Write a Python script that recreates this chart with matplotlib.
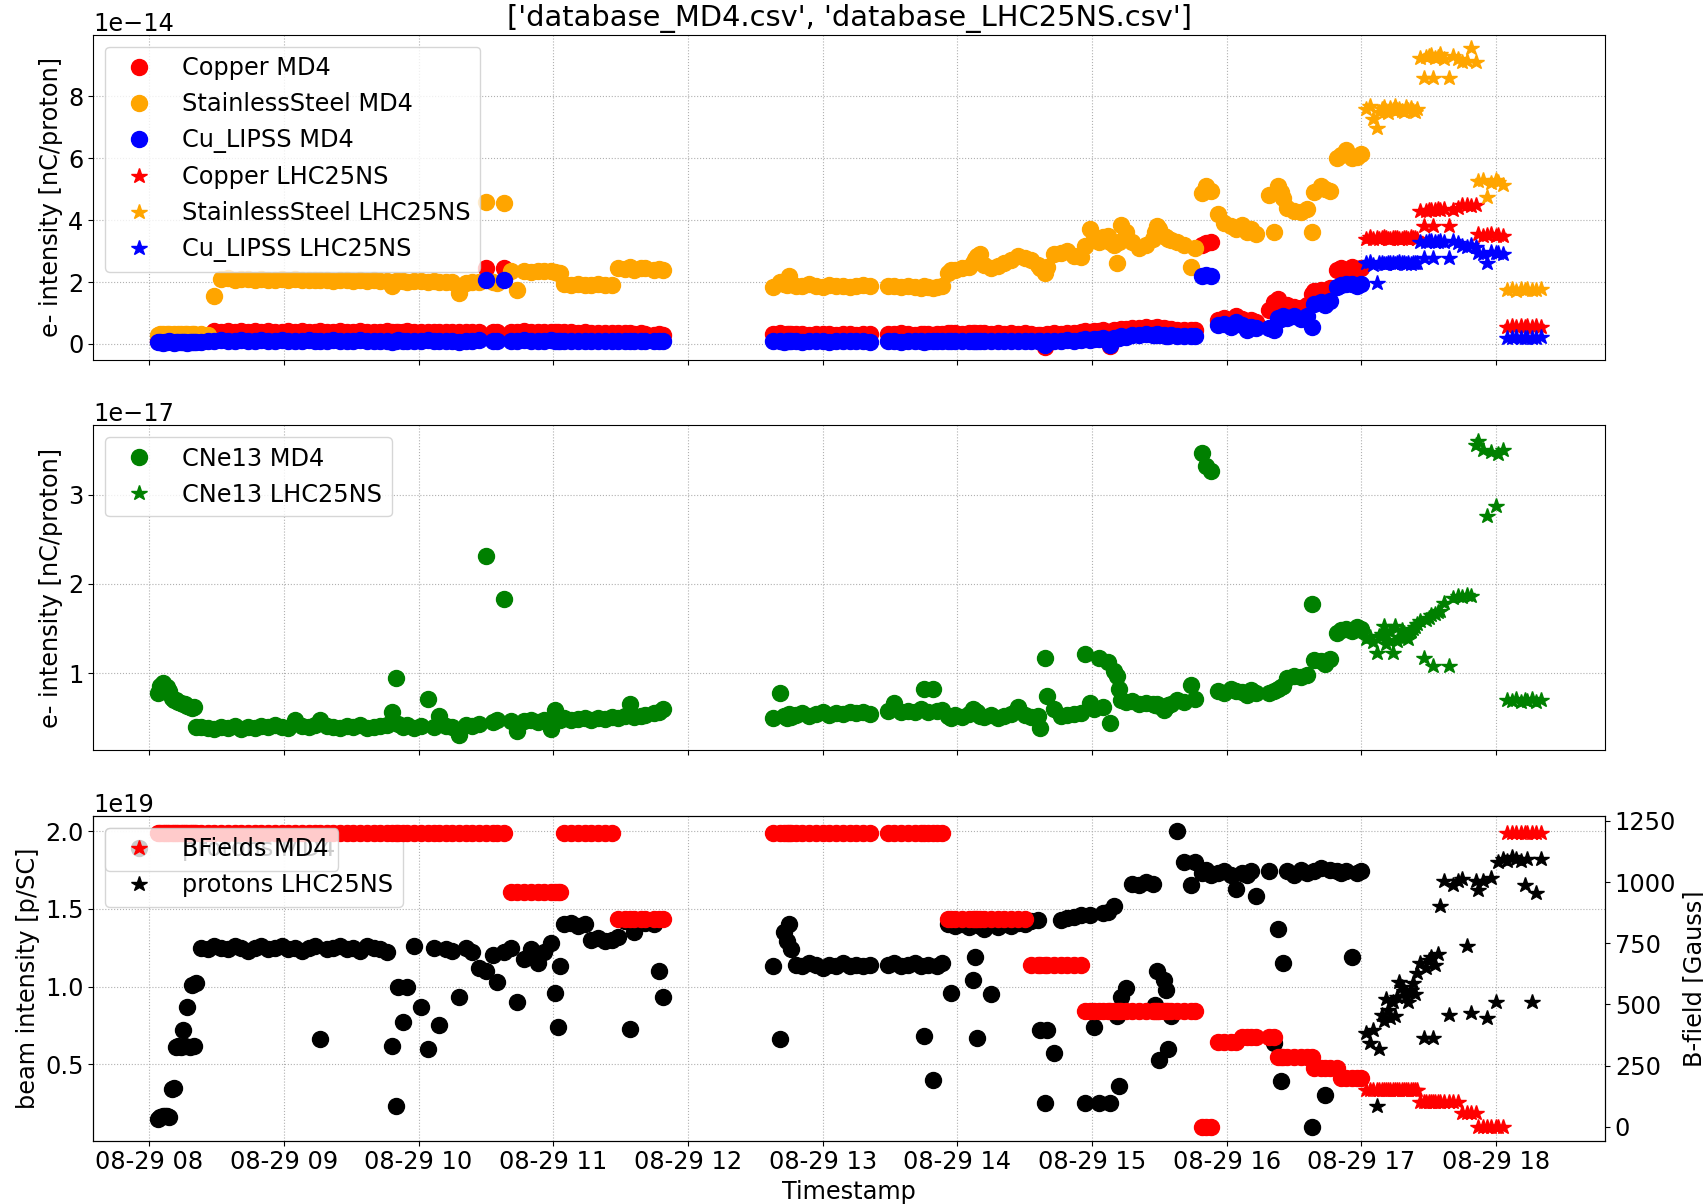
import numpy as np
import pandas as pd
import matplotlib
matplotlib.use("Agg")
import matplotlib.pyplot as plt
import matplotlib.dates as mdates
from matplotlib.ticker import MultipleLocator

plt.rcParams['font.family'] = 'DejaVu Sans'
plt.rcParams['font.size'] = 17.3

files = ['database_MD4.csv', 'database_LHC25NS.csv']
day = pd.Timestamp('2023-08-29 08:00')

# ---- MD4 run: minutes after 08:00 for every logged sample ----
md4_min = [4, 5, 6, 7, 8, 9, 10, 11, 12, 13, 14, 15, 16, 17, 18, 19, 20, 21,
           23, 26, 29, 32, 35, 38, 41, 44, 47, 50,
           53, 56, 59, 62, 65, 68, 71, 74, 76, 79,
           82, 85, 88, 91, 94, 97, 100, 103, 106, 108,
           110, 111, 113, 115, 118, 121, 124, 127, 129, 132,
           135, 138, 141, 144, 147, 150,
           153, 155, 158, 161, 164, 167, 170, 173, 176, 179,
           181, 182, 183, 185, 188, 191, 194, 197, 200, 203,
           206, 209, 212, 214, 216, 219, 221,
           225, 227, 229,
           278, 281, 283, 284, 285, 286, 288, 291, 294, 297, 300, 303, 306, 309, 312, 315, 318, 321,
           329, 332, 335, 338, 341, 344, 345, 347, 349, 351, 353,
           356, 357, 359, 362, 365, 367, 368, 369, 370, 372,
           375, 378, 381, 384, 387, 390, 393, 396, 397, 399,
           400, 403, 406, 409, 412, 415, 417, 419, 421, 423,
           425, 427, 428, 430, 431, 432, 433, 435, 438, 441,
           444, 447, 448, 449, 450, 452, 453, 454, 455, 458,
           461, 464, 466,
           469, 471, 473, 476, 479, 482, 484, 487, 489, 491, 493,
           499, 501, 503, 504, 505, 507, 510, 513, 516, 518,
           519, 522, 524, 526, 529, 531, 533, 536, 538, 540]

# e- intensity, units of 1e-14 nC/proton
copper_md4 = [.10, .12, .09, .11, .10, .12, .10, .11, .12, .10, .11, .13, .10, .12, .11, .10, .12, .11,
              .12, .14, .41, .40, .42, .39, .41, .40, .43, .40,
              .41, .39, .40, .42, .40, .41, .39, .40, .41, .38,
              .40, .42, .39, .40, .41, .38, .40, .39, .41, .40,
              .38, .40, .39, .41, .38, .40, .39, .37, .40, .38,
              .39, .37, .38, .40, .37, 2.45,
              .38, .40, 2.45, .40, .38, .41, .39, .40, .38, .39,
              .37, .38, .36, .37, .38, .36, .37, .36, .35, .36,
              .34, .35, .34, .35, .33, .34, .33,
              .30, .31, .29,
              .32, .34, .30, .31, .33, .32, .31, .32, .30, .33, .31, .32, .30, .31, .33, .30, .32, .31,
              .33, .31, .34, .32, .30, .33, .31, .32, .30, .31, .32,
              .35, .34, .36, .33, .35, .34, .36, .33, .35, .34,
              .32, .35, .33, .34, .32, .35, .33, .30, .30, -.11,
              .32, .34, .33, .36, .35, .38, .42, .40, .43, .41,
              .44, .40, -.07, .45, .43, .46, .48, .47, .52, .50,
              .55, .53, .50, .54, .52, .50, .48, .47, .49, .46,
              .45, .44, .46,
              3.20, 3.25, 3.30, .78, .85, .75, .90, .80, .70, .78, .72,
              1.10, 1.35, 1.45, 1.30, 1.20, 1.25, 1.20, 1.15, 1.25, 1.60,
              1.70, 1.75, 1.65, 1.80, 2.40, 2.45, 2.40, 2.50, 2.42, 2.45]

steel_md4 = [.30, .32, .31, .30, .33, .31, .30, .32, .30, .31, .33, .30, .32, .31, .30, .32, .31, .30,
             .31, .30, 1.54, 2.10, 2.12, 2.08, 2.09, 2.11, 2.07, 2.10,
             2.08, 2.06, 2.09, 2.07, 2.10, 2.08, 2.05, 2.07, 2.06, 2.08,
             2.04, 2.06, 2.05, 2.03, 2.06, 2.04, 2.05, 2.03, 2.02, 1.86,
             2.04, 2.02, 2.03, 2.01, 2.04, 2.02, 2.00, 2.03, 2.01, 1.99,
             2.00, 1.65, 1.98, 2.01, 1.99, 4.60,
             2.00, 1.97, 4.55, 2.34, 1.75, 2.36, 2.33, 2.35, 2.34, 2.36,
             2.33, 2.30, 2.28, 1.93, 1.90, 1.92, 1.89, 1.91, 1.92, 1.90,
             1.91, 2.45, 2.42, 2.48, 2.40, 2.46, 2.44,
             2.40, 2.42, 2.38,
             1.85, 2.00, 1.95, 1.90, 2.18, 1.92, 1.88, 1.86, 1.92, 1.87, 1.85, 1.90, 1.86, 1.88, 1.84, 1.87, 1.89, 1.86,
             1.86, 1.88, 1.84, 1.87, 1.85, 1.82, 1.86, 1.84, 1.80, 1.85, 1.87,
             2.30, 2.40, 2.38, 2.45, 2.50, 2.60, 2.75, 2.85, 2.90, 2.55,
             2.45, 2.52, 2.60, 2.70, 2.85, 2.78, 2.70, 2.55, 2.45, 2.30,
             2.50, 2.90, 2.95, 3.00, 2.85, 2.80, 3.15, 3.70, 3.40, 3.30,
             3.45, 3.50, 3.30, 3.20, 2.60, 3.30, 3.85, 3.60, 3.30, 3.10,
             3.20, 3.40, 3.60, 3.80, 3.70, 3.50, 3.45, 3.40, 3.35, 3.30,
             3.20, 2.50, 3.10,
             4.87, 5.09, 4.95, 4.20, 3.90, 3.80, 3.70, 3.85, 3.60, 3.70, 3.55,
             4.80, 3.60, 5.10, 4.90, 4.70, 4.40, 4.30, 4.25, 4.35, 3.60,
             4.90, 5.10, 5.00, 4.95, 6.00, 6.10, 6.25, 6.00, 6.05, 6.15]

lipss_md4 = [.05, .07, .04, .06, .05, .08, .06, .04, .07, .05, .06, .05, .07, .04, .06, .05, .07, .06,
             .06, .08, .10, .12, .09, .11, .13, .10, .08, .12,
             .10, .09, .13, .11, .08, .10, .12, .09, .11, .10,
             .12, .08, .11, .09, .13, .10, .08, .11, .09, .06,
             .10, .12, .09, .11, .08, .10, .12, .09, .11, .10,
             .08, .05, .11, .09, .12, 2.05,
             .10, .11, 2.05, .10, .08, .12, .09, .11, .10, .12,
             .09, .10, .11, .09, .11, .10, .08, .10, .11, .09,
             .10, .11, .09, .10, .11, .09, .10,
             .10, .09, .11,
             .08, .10, .07, .09, .11, .08, .10, .07, .09, .08, .10, .07, .09, .08, .10, .08, .09, .07,
             .08, .10, .07, .09, .08, .10, .07, .09, .08, .10, .09,
             .10, .09, .11, .08, .10, .09, .11, .08, .10, .09,
             .11, .08, .10, .09, .11, .08, .10, .09, .09, -.02,
             .10, .11, .09, .12, .10, .12, .15, .14, .16, .15,
             .18, .14, -.02, .20, .18, .20, .25, .22, .30, .28,
             .32, .30, .28, .33, .30, .28, .27, .26, .28, .27,
             .25, .24, .26,
             2.18, 2.22, 2.20, .60, .65, .55, .70, .60, .45, .55, .50,
             .50, .45, .85, .80, .90, .85, .90, .80, .90, .55,
             1.30, 1.35, 1.25, 1.40, 1.85, 1.90, 1.92, 1.95, 1.88, 1.93]

# CNe13, units of 1e-17 nC/proton
cne13_md4 = [.78, .86, .89, .84, .85, .80, .72, .70, .70, .68, .67, .66, .65, .63, .62, .61, .62, .40,
             .40, .39, .38, .40, .39, .41, .38, .40, .39, .41,
             .40, .42, .40, .39, .48, .41, .40, .42, .48, .41,
             .40, .39, .41, .40, .42, .39, .40, .41, .42, .56,
             .95, .43, .40, .42, .39, .41, .71, .40, .52, .41,
             .40, .31, .42, .41, .43, 2.31,
             .45, .47, 1.83, .46, .35, .46, .47, .45, .48, .37,
             .59, .49, .48, .50, .48, .49, .50, .48, .50, .49,
             .51, .50, .52, .65, .51, .52, .53,
             .55, .57, .60,
             .50, .78, .52, .50, .54, .51, .53, .55, .52, .54, .56, .53, .55, .54, .57, .55, .56, .54,
             .58, .67, .57, .58, .56, .60, .82, .57, .82, .58, .59,
             .52, .50, .53, .51, .54, .60, .58, .56, .52, .51,
             .53, .50, .52, .54, .62, .53, .51, .52, .39, 1.17,
             .74, .60, .52, .53, .54, .55, 1.21, .67, .60, 1.17,
             .62, 1.12, .44, 1.02, .97, .82, .70, .68, .69, .66,
             .67, .65, .64, .66, .63, .59, .62, .64, .66, .70,
             .68, .87, .71,
             3.47, 3.32, 3.26, .80, .78, .82, .80, .79, .76, .81, .78,
             .78, .80, .82, .84, .86, .95, .97, .96, .98, 1.77,
             1.15, 1.14, 1.10, 1.16, 1.45, 1.48, 1.50, 1.47, 1.52, 1.49]

# beam intensity, units of 1e19 p/SC
protons_md4 = [.15, .16, .17, .17, .17, .16, .34, .35, .61, .62, .61, .72, .62, .87, .61, 1.01, .62, 1.02,
               1.25, 1.24, 1.26, 1.25, 1.24, 1.26, 1.25, 1.23, 1.25, 1.26,
               1.24, 1.25, 1.26, 1.24, 1.25, 1.23, 1.25, 1.26, .66, 1.24,
               1.25, 1.26, 1.24, 1.25, 1.23, 1.26, 1.25, 1.24, 1.22, .62,
               .23, 1.00, .77, 1.00, 1.26, .87, .60, 1.25, .75, 1.24,
               1.23, .93, 1.25, 1.22, 1.12, 1.10,
               1.20, 1.03, 1.22, 1.25, .90, 1.18, 1.24, 1.15, 1.22, 1.28,
               .96, .74, 1.13, 1.40, 1.41, 1.39, 1.40, 1.30, 1.31, 1.29,
               1.30, 1.32, 1.42, .73, 1.35, 1.42, 1.41,
               1.40, 1.10, .93,
               1.13, .66, 1.35, 1.29, 1.40, 1.24, 1.14, 1.13, 1.15, 1.14, 1.12, 1.14, 1.13, 1.15, 1.13, 1.14, 1.13, 1.14,
               1.14, 1.15, 1.13, 1.14, 1.15, 1.13, .68, 1.14, .40, 1.13, 1.15,
               1.40, .96, 1.39, 1.40, 1.38, 1.04, 1.19, .67, 1.39, 1.37,
               .95, 1.38, 1.40, 1.39, 1.41, 1.40, 1.42, 1.43, .72, .25,
               .72, .57, 1.43, 1.44, 1.45, 1.46, .25, 1.46, .74, .25,
               1.47, 1.48, .25, 1.52, .81, .36, .93, .99, 1.66, 1.65,
               1.67, 1.66, .88, 1.10, .53, 1.04, .98, .60, .81, 2.00,
               1.80, 1.65, 1.80,
               1.73, 1.75, 1.72, 1.73, 1.74, 1.72, 1.63, 1.73, 1.72, 1.74, 1.58,
               1.74, .64, 1.37, .39, 1.15, 1.74, 1.72, 1.75, 1.73, .10,
               1.74, 1.76, .30, 1.75, 1.74, 1.73, 1.74, 1.19, 1.73, 1.74]

# magnet setting, Gauss
bfield_md4 = [1200, 1200, 1200, 1200, 1200, 1200, 1200, 1200, 1200, 1200, 1200, 1200, 1200, 1200, 1200, 1200, 1200, 1200,
              1200, 1200, 1200, 1200, 1200, 1200, 1200, 1200, 1200, 1200,
              1200, 1200, 1200, 1200, 1200, 1200, 1200, 1200, 1200, 1200,
              1200, 1200, 1200, 1200, 1200, 1200, 1200, 1200, 1200, 1200,
              1200, 1200, 1200, 1200, 1200, 1200, 1200, 1200, 1200, 1200,
              1200, 1200, 1200, 1200, 1200, 1200,
              1200, 1200, 1200, 960, 960, 960, 960, 960, 960, 960,
              960, 960, 960, 1200, 1200, 1200, 1200, 1200, 1200, 1200,
              1200, 850, 850, 850, 850, 850, 850,
              850, 850, 850,
              1200, 1200, 1200, 1200, 1200, 1200, 1200, 1200, 1200, 1200, 1200, 1200, 1200, 1200, 1200, 1200, 1200, 1200,
              1200, 1200, 1200, 1200, 1200, 1200, 1200, 1200, 1200, 1200, 1200,
              850, 850, 850, 850, 850, 850, 850, 850, 850, 850,
              850, 850, 850, 850, 850, 850, 660, 660, 660, 660,
              660, 660, 660, 660, 660, 660, 475, 475, 475, 475,
              475, 475, 475, 475, 475, 475, 475, 475, 475, 475,
              475, 475, 475, 475, 475, 475, 475, 475, 475, 475,
              475, 475, 475,
              0, 0, 0, 345, 345, 345, 345, 365, 365, 365, 365,
              365, 365, 285, 285, 285, 285, 285, 285, 285, 285,
              240, 240, 240, 240, 240, 198, 198, 198, 198, 198]

# ---- LHC25NS run ----
lhc_min = [542, 544, 545, 547, 548, 550, 552, 554, 555, 557,
           559, 561, 562, 564, 566, 568, 570, 572, 574, 575,
           577, 579, 581, 583, 585, 587, 589, 591, 592, 594,
           596, 598, 600, 601, 603, 605, 607, 609, 611, 613,
           614, 616, 618, 620,
           549, 551, 553, 556, 558, 560, 563, 565, 569, 571, 573]

copper_lhc = [3.40, 3.45, 3.38, 3.42, 3.40, 3.44, 3.39, 3.43, 3.41, 3.38,
              3.42, 3.40, 3.44, 3.41, 4.30, 3.80, 4.33, 3.80, 4.35, 4.32,
              4.36, 3.80, 4.34, 4.40, 4.48, 4.50, 4.46, 4.49, 3.55, 3.50,
              3.52, 3.55, 3.50, 3.53, 3.48, .55, .58, .56, .59, .55,
              .57, .56, .58, .56,
              3.41, 3.42, 3.40, 3.43, 3.39, 3.41, 3.42, 3.40, 4.31, 4.34, 4.33]
steel_lhc = [7.60, 7.70, 7.25, 6.97, 7.50, 7.65, 7.45, 7.55, 7.70, 7.60,
             7.48, 7.55, 7.62, 7.50, 9.25, 8.58, 9.30, 8.58, 9.28, 9.35,
             9.22, 8.58, 9.30, 9.20, 9.10, 9.15, 9.55, 9.10, 5.25, 5.30,
             4.76, 5.20, 5.28, 5.22, 5.15, 1.75, 1.78, 1.72, 1.76, 1.74,
             1.77, 1.73, 1.75, 1.76,
             7.58, 7.52, 7.63, 7.57, 7.51, 7.66, 7.54, 7.59, 9.27, 9.33, 9.24]
lipss_lhc = [2.60, 2.65, 2.55, 1.97, 2.62, 2.58, 2.63, 2.60, 2.57, 2.64,
             2.60, 2.62, 2.59, 2.61, 3.30, 2.77, 3.32, 2.77, 3.28, 3.33,
             3.30, 2.77, 3.31, 3.25, 3.15, 3.12, 3.18, 3.14, 2.95, 2.92,
             2.60, 2.96, 2.93, 2.95, 2.90, .20, .18, .21, .19, .20,
             .18, .20, .19, .21,
             2.61, 2.59, 2.62, 2.60, 2.63, 2.58, 2.61, 2.62, 3.29, 3.31, 3.30]
cne13_lhc = [1.38, 1.40, 1.35, 1.23, 1.42, 1.53, 1.37, 1.23, 1.53, 1.40,
             1.45, 1.38, 1.47, 1.52, 1.58, 1.17, 1.62, 1.08, 1.68, 1.70,
             1.79, 1.08, 1.84, 1.86, 1.85, 1.87, 1.86, 3.55, 3.60, 3.50,
             2.76, 3.48, 2.87, 3.45, 3.50, .70, .69, .71, .68, .70,
             .69, .71, .68, .70,
             1.44, 1.33, 1.46, 1.36, 1.48, 1.41, 1.50, 1.55, 1.60, 1.65, 1.66]
protons_lhc = [.70, .64, .72, .23, .60, .78, .85, .90, .81, 1.03,
               .97, .90, .98, .95, 1.15, .67, 1.17, .67, 1.21, 1.52,
               1.68, .82, 1.65, 1.68, 1.69, 1.26, .83, 1.68, 1.62, 1.68,
               .80, 1.70, .90, 1.80, 1.82, 1.81, 1.83, 1.82, 1.81, 1.65,
               1.82, .90, 1.60, 1.82,
               .82, .92, .80, .93, 1.00, .93, 1.02, 1.09, 1.12, 1.19, 1.14]
bfield_lhc = [150, 150, 150, 150, 150, 150, 150, 150, 150, 150,
              150, 150, 150, 150, 102, 102, 102, 102, 102, 102,
              102, 102, 102, 102, 55, 55, 55, 55, 0, 0,
              0, 0, 0, 0, 0, 1200, 1200, 1200, 1200, 1200,
              1200, 1200, 1200, 1200,
              150, 150, 150, 150, 150, 150, 150, 150, 102, 102, 102]

for col in (copper_md4, steel_md4, lipss_md4, cne13_md4, protons_md4, bfield_md4):
    assert len(col) == len(md4_min), len(col)
for col in (copper_lhc, steel_lhc, lipss_lhc, cne13_lhc, protons_lhc, bfield_lhc):
    assert len(col) == len(lhc_min), len(col)

t_md4 = day + pd.to_timedelta(md4_min, unit='min')
t_lhc = day + pd.to_timedelta(lhc_min, unit='min')

ms = 11.5
fig, (ax1, ax2, ax3) = plt.subplots(3, 1, sharex=True, figsize=(17.03, 12.04), dpi=100)
fig.subplots_adjust(left=0.0548, right=0.9425, top=0.9712, bottom=0.0526, hspace=0.202)

# top: metal samples
ax1.plot(t_md4, np.array(copper_md4) * 1e-14, 'o', color='red', ms=ms, label='Copper MD4')
ax1.plot(t_md4, np.array(steel_md4) * 1e-14, 'o', color='orange', ms=ms, label='StainlessSteel MD4')
ax1.plot(t_md4, np.array(lipss_md4) * 1e-14, 'o', color='blue', ms=ms, label='Cu_LIPSS MD4')
ax1.plot(t_lhc, np.array(copper_lhc) * 1e-14, '*', color='red', ms=ms, label='Copper LHC25NS')
ax1.plot(t_lhc, np.array(steel_lhc) * 1e-14, '*', color='orange', ms=ms, label='StainlessSteel LHC25NS')
ax1.plot(t_lhc, np.array(lipss_lhc) * 1e-14, '*', color='blue', ms=ms, label='Cu_LIPSS LHC25NS')
ax1.set_ylim(-0.506e-14, 9.99e-14)
ax1.set_ylabel('e- intensity [nC/proton]')
ax1.set_title(str(files))
ax1.legend(loc='upper left')

# middle: CNe13
ax2.plot(t_md4, np.array(cne13_md4) * 1e-17, 'o', color='green', ms=ms, label='CNe13 MD4')
ax2.plot(t_lhc, np.array(cne13_lhc) * 1e-17, '*', color='green', ms=ms, label='CNe13 LHC25NS')
ax2.set_ylim(0.138e-17, 3.777e-17)
ax2.set_ylabel('e- intensity [nC/proton]')
ax2.legend(loc='upper left')

# bottom: beam intensity and magnetic field
ax3.plot(t_md4, np.array(protons_md4) * 1e19, 'o', color='black', ms=ms, label='protons MD4')
ax3.plot(t_lhc, np.array(protons_lhc) * 1e19, '*', color='black', ms=ms, label='protons LHC25NS')
ax3.set_ylim(0.009e19, 2.098e19)
ax3.set_ylabel('beam intensity [p/SC]')
ax3.set_xlabel('Timestamp')
ax3.legend(loc='upper left')

ax3b = ax3.twinx()
b_lhc, = ax3b.plot(t_lhc, bfield_lhc, '*', color='red', ms=ms)
ax3b.plot(t_md4, bfield_md4, 'o', color='red', ms=ms)
ax3b.set_ylim(-57, 1271)
ax3b.yaxis.set_major_locator(MultipleLocator(250))
ax3b.set_ylabel('B-field [Gauss]')
ax3b.legend([b_lhc], ['BFields MD4'], loc='upper left')

for ax in (ax1, ax2, ax3):
    ax.grid(True, linestyle=':', color='#b0b0b0', linewidth=0.8)

ax3.xaxis.set_major_locator(mdates.HourLocator())
ax3.xaxis.set_major_formatter(mdates.DateFormatter('%m-%d %H'))
ax3.set_xlim(day - pd.Timedelta(minutes=24.9), day + pd.Timedelta(minutes=648.6))

fig.savefig('out.png', dpi=100)
